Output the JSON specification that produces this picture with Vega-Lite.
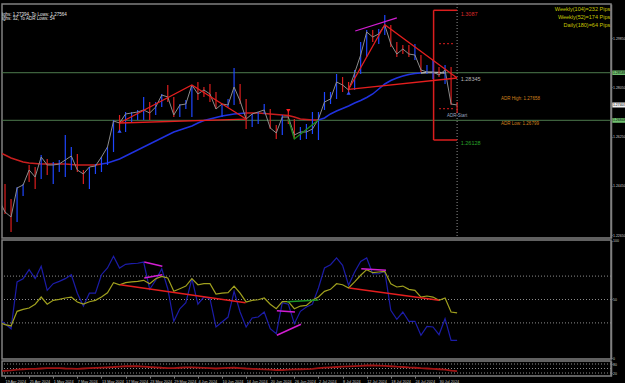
{
"$schema": "https://vega.github.io/schema/vega-lite/v6.json",
"background": "#000000",
"padding": {"left": 0, "top": 2, "right": 0, "bottom": 0},
"bounds": "flush",
"spacing": 2,
"config": {
  "view": {"stroke": "#808080", "strokeWidth": 1.5},
  "axis": {"grid": false, "labelColor": "#c8c8c8", "labelFont": "Liberation Sans", "labelFontSize": 3.5, "labelOverlap": false, "domainColor": "#808080", "tickColor": "#808080", "tickSize": 1, "labelPadding": 0.5},
  "text": {"font": "Liberation Sans"}
},
"datasets": {
  "bars": [
    {"i":-1,"h":1.24227,"l":1.23678,"c":1.23935,"d":"dn"},
    {"i":0,"h":1.24520,"l":1.23423,"c":1.23496,"d":"dn"},
    {"i":1,"h":1.23971,"l":1.22765,"c":1.23313,"d":"dn"},
    {"i":2,"h":1.24410,"l":1.23130,"c":1.24374,"d":"up"},
    {"i":3,"h":1.24520,"l":1.24081,"c":1.24483,"d":"up"},
    {"i":4,"h":1.25214,"l":1.24593,"c":1.25032,"d":"dn"},
    {"i":5,"h":1.25141,"l":1.24337,"c":1.24775,"d":"dn"},
    {"i":6,"h":1.25579,"l":1.24702,"c":1.25506,"d":"up"},
    {"i":7,"h":1.25433,"l":1.24848,"c":1.25214,"d":"dn"},
    {"i":8,"h":1.25324,"l":1.24520,"c":1.25214,"d":"up"},
    {"i":9,"h":1.25397,"l":1.24958,"c":1.25251,"d":"up"},
    {"i":10,"h":1.26311,"l":1.24775,"c":1.25397,"d":"up"},
    {"i":11,"h":1.25872,"l":1.25032,"c":1.25543,"d":"up"},
    {"i":12,"h":1.25616,"l":1.24958,"c":1.25032,"d":"dn"},
    {"i":13,"h":1.25032,"l":1.24520,"c":1.24885,"d":"dn"},
    {"i":14,"h":1.25141,"l":1.24337,"c":1.25141,"d":"up"},
    {"i":15,"h":1.25251,"l":1.24885,"c":1.25178,"d":"up"},
    {"i":16,"h":1.25506,"l":1.24958,"c":1.25506,"d":"up"},
    {"i":17,"h":1.25872,"l":1.25214,"c":1.25872,"d":"up"},
    {"i":18,"h":1.26860,"l":1.25689,"c":1.26823,"d":"up"},
    {"i":19,"h":1.27042,"l":1.26494,"c":1.26749,"d":"dn"},
    {"i":20,"h":1.27152,"l":1.26421,"c":1.27079,"d":"up"},
    {"i":21,"h":1.27152,"l":1.26786,"c":1.27115,"d":"up"},
    {"i":22,"h":1.27225,"l":1.26860,"c":1.27152,"d":"up"},
    {"i":23,"h":1.27700,"l":1.26860,"c":1.27225,"d":"up"},
    {"i":24,"h":1.27517,"l":1.26860,"c":1.27115,"d":"dn"},
    {"i":25,"h":1.27517,"l":1.27042,"c":1.27334,"d":"up"},
    {"i":26,"h":1.27810,"l":1.27334,"c":1.27773,"d":"up"},
    {"i":27,"h":1.28139,"l":1.27517,"c":1.27700,"d":"dn"},
    {"i":28,"h":1.27700,"l":1.26969,"c":1.27042,"d":"dn"},
    {"i":29,"h":1.27444,"l":1.26969,"c":1.27407,"d":"up"},
    {"i":30,"h":1.27590,"l":1.27261,"c":1.27444,"d":"up"},
    {"i":31,"h":1.28139,"l":1.26969,"c":1.28139,"d":"up"},
    {"i":32,"h":1.28249,"l":1.27590,"c":1.27810,"d":"dn"},
    {"i":33,"h":1.28066,"l":1.27700,"c":1.27956,"d":"dn"},
    {"i":34,"h":1.28176,"l":1.27517,"c":1.27810,"d":"dn"},
    {"i":35,"h":1.27883,"l":1.27261,"c":1.27261,"d":"dn"},
    {"i":36,"h":1.27444,"l":1.26969,"c":1.27444,"d":"up"},
    {"i":37,"h":1.27627,"l":1.27334,"c":1.27407,"d":"up"},
    {"i":38,"h":1.28761,"l":1.27407,"c":1.28066,"d":"up"},
    {"i":39,"h":1.28176,"l":1.27444,"c":1.27554,"d":"dn"},
    {"i":40,"h":1.27627,"l":1.26530,"c":1.26896,"d":"dn"},
    {"i":41,"h":1.27079,"l":1.26603,"c":1.27079,"d":"up"},
    {"i":42,"h":1.27152,"l":1.26713,"c":1.27152,"d":"up"},
    {"i":43,"h":1.27444,"l":1.27079,"c":1.27225,"d":"up"},
    {"i":44,"h":1.27261,"l":1.26530,"c":1.26567,"d":"dn"},
    {"i":45,"h":1.26676,"l":1.26165,"c":1.26384,"d":"dn"},
    {"i":46,"h":1.27042,"l":1.26311,"c":1.26969,"d":"up"},
    {"i":47,"h":1.27152,"l":1.26713,"c":1.26969,"d":"dn"},
    {"i":48,"h":1.26896,"l":1.26165,"c":1.26311,"d":"dn"},
    {"i":49,"h":1.26603,"l":1.26128,"c":1.26421,"d":"up"},
    {"i":50,"h":1.26713,"l":1.26165,"c":1.26421,"d":"up"},
    {"i":51,"h":1.27152,"l":1.26348,"c":1.26530,"d":"up"},
    {"i":52,"h":1.27152,"l":1.26128,"c":1.26896,"d":"up"},
    {"i":53,"h":1.27883,"l":1.27225,"c":1.27517,"d":"up"},
    {"i":54,"h":1.27883,"l":1.27444,"c":1.27627,"d":"up"},
    {"i":55,"h":1.28541,"l":1.27627,"c":1.28249,"d":"up"},
    {"i":56,"h":1.28431,"l":1.27883,"c":1.28139,"d":"dn"},
    {"i":57,"h":1.28249,"l":1.27810,"c":1.27956,"d":"dn"},
    {"i":58,"h":1.28688,"l":1.27956,"c":1.28578,"d":"up"},
    {"i":59,"h":1.29711,"l":1.28541,"c":1.29235,"d":"up"},
    {"i":60,"h":1.30150,"l":1.29162,"c":1.30077,"d":"up"},
    {"i":61,"h":1.30150,"l":1.29711,"c":1.29894,"d":"dn"},
    {"i":62,"h":1.30186,"l":1.29638,"c":1.30004,"d":"up"},
    {"i":63,"h":1.30698,"l":1.29967,"c":1.30332,"d":"up"},
    {"i":64,"h":1.30332,"l":1.29528,"c":1.29638,"d":"dn"},
    {"i":65,"h":1.29711,"l":1.29162,"c":1.29272,"d":"dn"},
    {"i":66,"h":1.29601,"l":1.29272,"c":1.29455,"d":"dn"},
    {"i":67,"h":1.29601,"l":1.29162,"c":1.29272,"d":"dn"},
    {"i":68,"h":1.29638,"l":1.29053,"c":1.29235,"d":"up"},
    {"i":69,"h":1.29235,"l":1.28614,"c":1.28688,"d":"dn"},
    {"i":70,"h":1.28870,"l":1.28541,"c":1.28614,"d":"up"},
    {"i":71,"h":1.29053,"l":1.28358,"c":1.28614,"d":"up"},
    {"i":72,"h":1.28797,"l":1.28431,"c":1.28504,"d":"dn"},
    {"i":73,"h":1.28870,"l":1.28176,"c":1.28688,"d":"up"},
    {"i":74,"h":1.28797,"l":1.27407,"c":1.27444,"d":"dn"},
    {"i":75,"h":1.27517,"l":1.27115,"c":1.27407,"d":"dn"}
  ],
  "ma": [
    {"s":"r1","t":"dn","i":-1,"v":1.25689},{"s":"r1","t":"dn","i":0,"v":1.25579},{"s":"r1","t":"dn","i":1,"v":1.25470},{"s":"r1","t":"dn","i":2,"v":1.25397},{"s":"r1","t":"dn","i":3,"v":1.25324},{"s":"r1","t":"dn","i":4,"v":1.25287},{"s":"r1","t":"dn","i":5,"v":1.25269},{"s":"r1","t":"dn","i":6,"v":1.25251},{"s":"r1","t":"dn","i":7,"v":1.25251},{"s":"r1","t":"dn","i":8,"v":1.25251},{"s":"r1","t":"dn","i":9,"v":1.25251},{"s":"r1","t":"dn","i":10,"v":1.25251},{"s":"r1","t":"dn","i":11,"v":1.25233},{"s":"r1","t":"dn","i":12,"v":1.25214},{"s":"r1","t":"dn","i":13,"v":1.25214},{"s":"r1","t":"dn","i":14,"v":1.25214},{"s":"r1","t":"dn","i":15,"v":1.25214},{"s":"r1","t":"dn","i":16,"v":1.25251},
    {"s":"b1","t":"up","i":16,"v":1.25251},{"s":"b1","t":"up","i":17,"v":1.25287},{"s":"b1","t":"up","i":18,"v":1.25360},{"s":"b1","t":"up","i":19,"v":1.25433},{"s":"b1","t":"up","i":20,"v":1.25543},{"s":"b1","t":"up","i":21,"v":1.25652},{"s":"b1","t":"up","i":22,"v":1.25762},{"s":"b1","t":"up","i":23,"v":1.25872},{"s":"b1","t":"up","i":24,"v":1.25982},{"s":"b1","t":"up","i":25,"v":1.26092},{"s":"b1","t":"up","i":26,"v":1.26201},{"s":"b1","t":"up","i":27,"v":1.26311},{"s":"b1","t":"up","i":28,"v":1.26421},{"s":"b1","t":"up","i":29,"v":1.26494},{"s":"b1","t":"up","i":30,"v":1.26567},{"s":"b1","t":"up","i":31,"v":1.26640},{"s":"b1","t":"up","i":32,"v":1.26749},{"s":"b1","t":"up","i":33,"v":1.26841},{"s":"b1","t":"up","i":34,"v":1.26896},{"s":"b1","t":"up","i":35,"v":1.26951},{"s":"b1","t":"up","i":36,"v":1.27006},{"s":"b1","t":"up","i":37,"v":1.27042},{"s":"b1","t":"up","i":38,"v":1.27079},{"s":"b1","t":"up","i":39,"v":1.27097},{"s":"b1","t":"up","i":40,"v":1.27115},
    {"s":"r2","t":"dn","i":40,"v":1.27115},{"s":"r2","t":"dn","i":41,"v":1.27115},{"s":"r2","t":"dn","i":42,"v":1.27115},{"s":"r2","t":"dn","i":43,"v":1.27097},{"s":"r2","t":"dn","i":44,"v":1.27079},{"s":"r2","t":"dn","i":45,"v":1.27061},{"s":"r2","t":"dn","i":46,"v":1.27042},{"s":"r2","t":"dn","i":47,"v":1.27024},{"s":"r2","t":"dn","i":48,"v":1.26969},{"s":"r2","t":"dn","i":49,"v":1.26896},{"s":"r2","t":"dn","i":50,"v":1.26878},{"s":"r2","t":"dn","i":51,"v":1.26860},{"s":"r2","t":"dn","i":52,"v":1.26860},
    {"s":"b2","t":"up","i":52,"v":1.26860},{"s":"b2","t":"up","i":53,"v":1.26933},{"s":"b2","t":"up","i":54,"v":1.27079},{"s":"b2","t":"up","i":55,"v":1.27188},{"s":"b2","t":"up","i":56,"v":1.27280},{"s":"b2","t":"up","i":57,"v":1.27371},{"s":"b2","t":"up","i":58,"v":1.27481},{"s":"b2","t":"up","i":59,"v":1.27572},{"s":"b2","t":"up","i":60,"v":1.27682},{"s":"b2","t":"up","i":61,"v":1.27810},{"s":"b2","t":"up","i":62,"v":1.27993},{"s":"b2","t":"up","i":63,"v":1.28176},{"s":"b2","t":"up","i":64,"v":1.28304},{"s":"b2","t":"up","i":65,"v":1.28395},{"s":"b2","t":"up","i":66,"v":1.28468},{"s":"b2","t":"up","i":67,"v":1.28523},{"s":"b2","t":"up","i":68,"v":1.28559},{"s":"b2","t":"up","i":69,"v":1.28578},
    {"s":"w1","t":"flat","i":69,"v":1.28578},{"s":"w1","t":"flat","i":70,"v":1.28596},{"s":"w1","t":"flat","i":71,"v":1.28596},{"s":"w1","t":"flat","i":72,"v":1.28596},{"s":"w1","t":"flat","i":73,"v":1.28578}
  ],
  "plines": [
    {"g":"a","k":"red","i":19,"p":1.26749},{"g":"a","k":"red","i":31,"p":1.28139},{"g":"a","k":"red","i":40,"p":1.26896},
    {"g":"b","k":"red","i":19,"p":1.26749},{"g":"b","k":"red","i":40,"p":1.26888},
    {"g":"c","k":"red","i":57,"p":1.27982},{"g":"c","k":"red","i":63,"p":1.30343},{"g":"c","k":"red","i":75,"p":1.28395},
    {"g":"d","k":"red","i":57,"p":1.27982},{"g":"d","k":"red","i":75,"p":1.28395},
    {"g":"e","k":"magenta","i":58.1,"p":1.30113},{"g":"e","k":"magenta","i":65,"p":1.30589},
    {"g":"f","k":"green","i":47,"p":1.26896},{"g":"f","k":"green","i":48,"p":1.26165},{"g":"f","k":"green","i":52,"p":1.26860}
  ],
  "osc": [
    {"i":-1,"b":33,"y":30.8},{"i":0,"b":29.3,"y":28.5},{"i":1,"b":25,"y":27.4},{"i":2,"b":65,"y":39.9},{"i":3,"b":67.8,"y":41.6},{"i":4,"b":75.5,"y":42.7},{"i":5,"b":67.8,"y":46},{"i":6,"b":78.4,"y":52.1},{"i":7,"b":57.8,"y":46},{"i":8,"b":63.5,"y":49.3},{"i":9,"b":65.5,"y":50.1},{"i":10,"b":67.8,"y":51.3},{"i":11,"b":71.2,"y":52.1},{"i":12,"b":55.4,"y":47.9},{"i":13,"b":44.4,"y":46},{"i":14,"b":55.4,"y":48.1},{"i":15,"b":55.4,"y":49.3},{"i":16,"b":71.2,"y":52.1},{"i":17,"b":76.9,"y":55.8},{"i":18,"b":86.9,"y":64.4},{"i":19,"b":76.9,"y":62.6},{"i":20,"b":80.1,"y":64.4},{"i":21,"b":80.6,"y":65},{"i":22,"b":81,"y":65.5},{"i":23,"b":82,"y":66.4},{"i":24,"b":58.7,"y":63.5},{"i":25,"b":66.4,"y":67.8},{"i":26,"b":76.3,"y":69.8},{"i":27,"b":59.2,"y":68.4},{"i":28,"b":31.3,"y":57},{"i":29,"b":42.1,"y":59.2},{"i":30,"b":47.3,"y":61.5},{"i":31,"b":67.8,"y":67.8},{"i":32,"b":46,"y":62.6},{"i":33,"b":52.1,"y":63.5},{"i":34,"b":50.7,"y":63.5},{"i":35,"b":26.5,"y":54.6},{"i":36,"b":30.8,"y":55.4},{"i":37,"b":35,"y":55.8},{"i":38,"b":57,"y":61.5},{"i":39,"b":39.3,"y":55.4},{"i":40,"b":26.5,"y":47.9},{"i":41,"b":34.2,"y":49.3},{"i":42,"b":35,"y":49.8},{"i":43,"b":39.3,"y":51.3},{"i":44,"b":25,"y":46},{"i":45,"b":20.8,"y":42.1},{"i":46,"b":47.3,"y":48.1},{"i":47,"b":46,"y":48.1},{"i":48,"b":29.3,"y":42.1},{"i":49,"b":39.9,"y":44.4},{"i":50,"b":43.6,"y":45},{"i":51,"b":46,"y":49.3},{"i":52,"b":59.8,"y":52.1},{"i":53,"b":76.9,"y":57},{"i":54,"b":79.7,"y":58.7},{"i":55,"b":85.5,"y":63.5},{"i":56,"b":79.2,"y":62.6},{"i":57,"b":62.1,"y":59.8},{"i":58,"b":73.5,"y":65},{"i":59,"b":82.6,"y":70.7},{"i":60,"b":85.5,"y":75.5},{"i":61,"b":72,"y":72.9},{"i":62,"b":72,"y":73.5},{"i":63,"b":74.1,"y":74.1},{"i":64,"b":40.8,"y":63.5},{"i":65,"b":33.1,"y":60.7},{"i":66,"b":39.3,"y":61.5},{"i":67,"b":31.3,"y":58.7},{"i":68,"b":31.3,"y":57.8},{"i":69,"b":19.4,"y":52.1},{"i":70,"b":27.1,"y":53},{"i":71,"b":26.5,"y":52.1},{"i":72,"b":19.9,"y":49.3},{"i":73,"b":33.6,"y":51.3},{"i":74,"b":15.1,"y":39.3},{"i":75,"b":15.1,"y":38.5}
  ],
  "olines": [
    {"g":"r1","k":"red","i":19.1,"v":62.6},{"g":"r1","k":"red","i":39.9,"v":47.3},
    {"g":"r2","k":"red","i":57.1,"v":59.8},{"g":"r2","k":"red","i":72,"v":49.3},
    {"g":"g1","k":"green","i":46.8,"v":48.1},{"g":"g1","k":"green","i":52,"v":49.5},
    {"g":"m1","k":"magenta","i":23.1,"v":82},{"g":"m1","k":"magenta","i":26.1,"v":78.4},
    {"g":"m2","k":"magenta","i":23.1,"v":68.4},{"g":"m2","k":"magenta","i":26.1,"v":71.2},
    {"g":"m3","k":"magenta","i":45.1,"v":40.4},{"g":"m3","k":"magenta","i":48.1,"v":39.3},
    {"g":"m4","k":"magenta","i":45.1,"v":19.4},{"g":"m4","k":"magenta","i":49.1,"v":28.8},
    {"g":"m5","k":"magenta","i":59.1,"v":76.3},{"g":"m5","k":"magenta","i":63.2,"v":75}
  ],
  "btm": [
    {"i":-1,"v":33},{"i":0,"v":35},{"i":1,"v":38},{"i":2,"v":42},{"i":3,"v":45},{"i":4,"v":47},{"i":5,"v":48},{"i":6,"v":50},{"i":7,"v":52},{"i":8,"v":53},{"i":9,"v":52},{"i":10,"v":50},{"i":11,"v":49},{"i":12,"v":48},{"i":13,"v":50},{"i":14,"v":52},{"i":15,"v":54},{"i":16,"v":56},{"i":17,"v":58},{"i":18,"v":60},{"i":19,"v":63},{"i":20,"v":65},{"i":21,"v":66},{"i":22,"v":65},{"i":23,"v":63},{"i":24,"v":60},{"i":25,"v":58},{"i":26,"v":55},{"i":27,"v":53},{"i":28,"v":52},{"i":29,"v":55},{"i":30,"v":57},{"i":31,"v":58},{"i":32,"v":56},{"i":33,"v":54},{"i":34,"v":52},{"i":35,"v":50},{"i":36,"v":52},{"i":37,"v":54},{"i":38,"v":55},{"i":39,"v":53},{"i":40,"v":50},{"i":41,"v":48},{"i":42,"v":46},{"i":43,"v":44},{"i":44,"v":42},{"i":45,"v":40},{"i":46,"v":40},{"i":47,"v":42},{"i":48,"v":44},{"i":49,"v":45},{"i":50,"v":46},{"i":51,"v":48},{"i":52,"v":52},{"i":53,"v":56},{"i":54,"v":58},{"i":55,"v":60},{"i":56,"v":62},{"i":57,"v":64},{"i":58,"v":66},{"i":59,"v":68},{"i":60,"v":70},{"i":61,"v":70},{"i":62,"v":69},{"i":63,"v":68},{"i":64,"v":65},{"i":65,"v":62},{"i":66,"v":60},{"i":67,"v":57},{"i":68,"v":55},{"i":69,"v":52},{"i":70,"v":50},{"i":71,"v":48},{"i":72,"v":45},{"i":73,"v":42},{"i":74,"v":36},{"i":75,"v":33}
  ]
},
"vconcat": [
  {
    "width": 609, "height": 234,
    "resolve": {"scale": {"color": "independent", "shape": "independent"}},
    "layer": [
      {"data": {"values": [{"p":1.28588},{"p":1.26848}]},
       "mark": {"type":"rule","color":"#4d7a4d","strokeWidth":1},
       "encoding": {
         "y": {"field":"p","type":"quantitative","title":null,"scale":{"domain":[1.22545,1.311],"nice":false,"zero":false},
               "axis":{"orient":"right","values":[1.2265,1.231,1.2355,1.24,1.2445,1.249,1.2535,1.258,1.2625,1.267,1.2715,1.276,1.2805,1.285,1.2895,1.294,1.2985,1.303,1.3075],"format":".5f","domainWidth":1.5}}
       }},
      {"data": {"values": [{"a":75}]},
       "mark": {"type":"rule","color":"#909090","strokeWidth":1,"strokeDash":[1,2]},
       "encoding": {"x": {"field":"a","type":"quantitative","title":null,"scale":{"domain":[-0.5,100.53],"nice":false,"zero":false},"axis":null}}},
      {"data": {"values": [{"a":71.1,"b":75,"p":1.3087},{"a":71.1,"b":75,"p":1.26128}]},
       "mark": {"type":"rule","color":"#dc1e1e","strokeWidth":1.5},
       "encoding": {"x":{"field":"a","type":"quantitative","title":null},"x2":{"field":"b"},"y":{"field":"p","type":"quantitative","title":null}}},
      {"data": {"values": [{"a":71.1,"p":1.26128,"q":1.3087}]},
       "mark": {"type":"rule","color":"#dc1e1e","strokeWidth":1.5},
       "encoding": {"x":{"field":"a","type":"quantitative","title":null},"y":{"field":"p","type":"quantitative","title":null},"y2":{"field":"q"}}},
      {"data": {"values": [{"a":72,"b":74.6,"p":1.29649},{"a":72,"b":74.6,"p":1.27272}]},
       "mark": {"type":"rule","color":"#dc1e1e","strokeWidth":1,"strokeDash":[2,2]},
       "encoding": {"x":{"field":"a","type":"quantitative","title":null},"x2":{"field":"b"},"y":{"field":"p","type":"quantitative","title":null}}},
      {"data": {"name":"ma"},
       "mark": {"type":"line","strokeWidth":1.5,"clip":true},
       "encoding": {"x":{"field":"i","type":"quantitative","title":null},"y":{"field":"v","type":"quantitative","title":null},"detail":{"field":"s"},
         "color":{"field":"t","type":"nominal","legend":null,"scale":{"domain":["dn","up","flat"],"range":["#c81e1e","#2032e0","#b4b4b4"]}}}},
      {"data": {"name":"bars"},
       "mark": {"type":"rule","strokeWidth":1.2,"clip":true},
       "encoding": {"x":{"field":"i","type":"quantitative","title":null},"y":{"field":"l","type":"quantitative","title":null},"y2":{"field":"h"},
         "color":{"field":"d","type":"nominal","legend":null,"scale":{"domain":["up","dn"],"range":["#1e46ff","#dc1e1e"]}}}},
      {"data": {"name":"bars"},
       "mark": {"type":"line","color":"#8c8c8c","strokeWidth":1,"clip":true},
       "encoding": {"x":{"field":"i","type":"quantitative","title":null},"y":{"field":"c","type":"quantitative","title":null}}},
      {"data": {"name":"plines"},
       "mark": {"type":"line","strokeWidth":1.3,"clip":true},
       "encoding": {"x":{"field":"i","type":"quantitative","title":null},"y":{"field":"p","type":"quantitative","title":null},"detail":{"field":"g"},
         "color":{"field":"k","type":"nominal","legend":null,"scale":{"domain":["red","magenta","green"],"range":["#e41e1e","#d21ed2","#1e8c1e"]}}}},
      {"data": {"values": [{"i":19,"p":1.26457,"k":"buy"},{"i":57,"p":1.27846,"k":"buy"},{"i":47,"p":1.27190,"k":"sell"}]},
       "mark": {"type":"point","filled":true,"size":18,"opacity":1},
       "encoding": {"x":{"field":"i","type":"quantitative","title":null},"y":{"field":"p","type":"quantitative","title":null},
         "shape":{"field":"k","type":"nominal","legend":null,"scale":{"domain":["buy","sell"],"range":["triangle-up","triangle-down"]}},
         "color":{"field":"k","type":"nominal","legend":null,"scale":{"domain":["buy","sell"],"range":["#3050ff","#ff2020"]}}}},
      {"data": {"values": [{"i":-0.5,"p":1.30698,"t":"ighs: 1.27394, To Lows: 1.27564"},{"i":-0.5,"p":1.30534,"t":"ighs: 32, To ADR Lows: 54"}]},
       "mark": {"type":"text","align":"left","baseline":"middle","fontSize":4.5,"color":"#e6e6e6"},
       "encoding": {"x":{"field":"i","type":"quantitative","title":null},"y":{"field":"p","type":"quantitative","title":null},"text":{"field":"t"}}},
      {"data": {"values": [{"i":100.4,"p":1.30899,"t":"Weekly(104)=232 Pips"},{"i":100.4,"p":1.30607,"t":"Weekly(52)=174 Pips"},{"i":100.4,"p":1.30314,"t":"Daily(180)=64 Pips"}]},
       "mark": {"type":"text","align":"right","baseline":"middle","fontSize":5.5,"color":"#c8c800"},
       "encoding": {"x":{"field":"i","type":"quantitative","title":null},"y":{"field":"p","type":"quantitative","title":null},"text":{"field":"t"}}},
      {"data": {"values": [{"i":75.6,"p":1.30735,"t":"1.3087","k":"hi"},{"i":75.6,"p":1.28376,"t":"1.28345","k":"mid"},{"i":75.6,"p":1.26000,"t":"1.26128","k":"lo"}]},
       "mark": {"type":"text","align":"left","baseline":"middle","fontSize":5.5},
       "encoding": {"x":{"field":"i","type":"quantitative","title":null},"y":{"field":"p","type":"quantitative","title":null},"text":{"field":"t"},
         "color":{"field":"k","type":"nominal","legend":null,"scale":{"domain":["hi","mid","lo"],"range":["#dc2828","#b4b4b4","#28a028"]}}}},
      {"data": {"values": [{"i":82.3,"p":1.27638,"t":"ADR High: 1.27658"},{"i":82.3,"p":1.26724,"t":"ADR Low: 1.26799"}]},
       "mark": {"type":"text","align":"left","baseline":"middle","fontSize":4.5,"color":"#d2821e"},
       "encoding": {"x":{"field":"i","type":"quantitative","title":null},"y":{"field":"p","type":"quantitative","title":null},"text":{"field":"t"}}},
      {"data": {"values": [{"i":75,"p":1.27006,"t":"ADR Start"}]},
       "mark": {"type":"text","align":"center","baseline":"middle","fontSize":4.5,"color":"#9aa6c0"},
       "encoding": {"x":{"field":"i","type":"quantitative","title":null},"y":{"field":"p","type":"quantitative","title":null},"text":{"field":"t"}}},
      {"data": {"values": [{"a":100.75,"b":103.2,"p":1.28504,"q":1.28669,"k":"g"},{"a":100.75,"b":103.2,"p":1.26757,"q":1.26933,"k":"g"},{"a":100.75,"b":103.2,"p":1.27316,"q":1.27499,"k":"w"}]},
       "mark": {"type":"rect"},
       "encoding": {"x":{"field":"a","type":"quantitative","title":null},"x2":{"field":"b"},"y":{"field":"p","type":"quantitative","title":null},"y2":{"field":"q"},
         "color":{"field":"k","type":"nominal","legend":null,"scale":{"domain":["g","w"],"range":["#70c070","#f0f0f0"]}}}},
      {"data": {"values": [{"i":100.85,"p":1.28588,"t":"1.28588"},{"i":100.85,"p":1.26848,"t":"1.26848"},{"i":100.85,"p":1.27407,"t":"1.27407"}]},
       "mark": {"type":"text","align":"left","baseline":"middle","fontSize":3.5,"color":"#000000"},
       "encoding": {"x":{"field":"i","type":"quantitative","title":null},"y":{"field":"p","type":"quantitative","title":null},"text":{"field":"t"}}}
    ]
  },
  {
    "width": 609, "height": 119,
    "resolve": {"scale": {"color": "independent"}},
    "layer": [
      {"data": {"values": [{"v":30},{"v":50},{"v":70}]},
       "mark": {"type":"rule","color":"#8c8c8c","strokeWidth":1,"strokeDash":[1,2]},
       "encoding": {"y":{"field":"v","type":"quantitative","title":null,"scale":{"domain":[-0.85,100.85],"nice":false,"zero":false},
         "axis":{"orient":"right","values":[0,30,50,70,100],"format":"d","domainWidth":1.5}}}},
      {"data": {"name":"osc"},
       "mark": {"type":"line","color":"#1c1ca8","strokeWidth":1.2,"clip":true},
       "encoding": {"x":{"field":"i","type":"quantitative","title":null,"scale":{"domain":[-0.5,100.53],"nice":false,"zero":false},"axis":null},"y":{"field":"b","type":"quantitative","title":null}}},
      {"data": {"name":"osc"},
       "mark": {"type":"line","color":"#a0a01e","strokeWidth":1.2,"clip":true},
       "encoding": {"x":{"field":"i","type":"quantitative","title":null},"y":{"field":"y","type":"quantitative","title":null}}},
      {"data": {"name":"olines"},
       "mark": {"type":"line","strokeWidth":1.5,"clip":true},
       "encoding": {"x":{"field":"i","type":"quantitative","title":null},"y":{"field":"v","type":"quantitative","title":null},"detail":{"field":"g"},
         "color":{"field":"k","type":"nominal","legend":null,"scale":{"domain":["red","magenta","green"],"range":["#e41e1e","#d21ed2","#1e9628"]}}}}
    ]
  },
  {
    "width": 609, "height": 15,
    "layer": [
      {"data": {"values": [{"v":20},{"v":50},{"v":80}]},
       "mark": {"type":"rule","color":"#8c8c8c","strokeWidth":1,"strokeDash":[1,2]},
       "encoding": {"y":{"field":"v","type":"quantitative","title":null,"scale":{"domain":[0,100],"nice":false,"zero":false},
         "axis":{"orient":"right","values":[20,50,80],"format":"d","domainWidth":1.5}}}},
      {"data": {"name":"btm"},
       "mark": {"type":"line","color":"#a01414","strokeWidth":1.8,"clip":true},
       "encoding": {"x":{"field":"i","type":"quantitative","title":null,"scale":{"domain":[-0.5,100.53],"nice":false,"zero":false},
         "axis":{"orient":"bottom","values":[0,4,8,12,16,20,24,28,32,36,40,44,48,52,56,60,64,68,72],"labelAlign":"left","labelFlush":false,"domain":false,"labelPadding":1,"tickSize":2,"labelFontSize":3.8,
           "labelExpr":"['19 Apr 2024','25 Apr 2024','1 May 2024','7 May 2024','13 May 2024','17 May 2024','23 May 2024','29 May 2024','4 Jun 2024','10 Jun 2024','14 Jun 2024','20 Jun 2024','26 Jun 2024','2 Jul 2024','8 Jul 2024','12 Jul 2024','18 Jul 2024','24 Jul 2024','30 Jul 2024'][round(datum.value/4)]"}},
         "y":{"field":"v","type":"quantitative","title":null}}}
    ]
  }
]
}
